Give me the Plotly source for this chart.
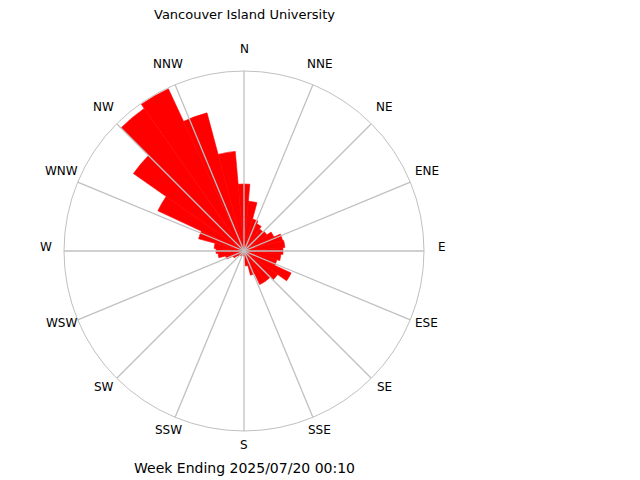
import math
import plotly.graph_objects as go

# wind rose, 10 degree sectors, clockwise from N
bin_dirs = [0, 10, 20, 30, 40, 50, 60, 70, 80, 90, 100, 110,
            120, 130, 140, 150, 160, 170, 180, 190, 200, 210, 220, 230,
            240, 250, 260, 270, 280, 290, 300, 310, 320, 330, 340, 350]
bin_vals = [67, 50, 33, 30, 27, 28, 33, 40, 41, 39, 37, 34,
            52, 41, 37, 37, 25, 15, 5, 5, 4, 5, 6, 8,
            12, 19, 26, 28, 30, 47, 95, 135, 174, 179, 143, 100]

compass_labels = ["N", "NNE", "NE", "ENE", "E", "ESE", "SE", "SSE",
                  "S", "SSW", "SW", "WSW", "W", "WNW", "NW", "NNW"]
compass_dirs = [22.5 * i for i in range(16)]

title_text = "Vancouver Island University"
footer_text = "Week Ending 2025/07/20 00:10"

RED = "#ff0000"
GREY = "#c0c0c0"
FONT = "DejaVu Sans"
OUTER = 180
W, H = 640, 480
# pole of the rose in figure pixels (page has an 8px body margin)
CX, CY = 236, 243

fig = go.Figure()
# thin red outline closes the antialiasing seams between sectors
fig.add_trace(go.Barpolar(
    theta=bin_dirs, r=bin_vals, width=10,
    marker=dict(color=RED, line=dict(width=0.6, color=RED)),
    hoverinfo="skip",
))

# spokes sit on top of the bars
for d in compass_dirs:
    fig.add_trace(go.Scatterpolar(
        theta=[d, d], r=[0, OUTER], mode="lines",
        line=dict(color=GREY, width=1.3), hoverinfo="skip",
    ))

notes = [
    dict(text=title_text, x=CX / W, y=1 - 7 / H, font=dict(size=13)),
    dict(text=footer_text, x=CX / W, y=1 - 460 / H, font=dict(size=14)),
]
# compass labels outside the circle, pushed up a little like the original
for d, lab in zip(compass_dirs, compass_labels):
    a = math.radians(d)
    notes.append(dict(
        text=lab,
        x=(CX + 198 * math.sin(a)) / W,
        y=1 - (CY - 198 * math.cos(a) - 4) / H,
        font=dict(size=12),
    ))
for n in notes:
    n.update(xref="paper", yref="paper", showarrow=False, xanchor="center", yanchor="middle")

fig.update_layout(
    width=W, height=H,
    margin=dict(l=0, r=0, t=0, b=0),
    paper_bgcolor="white",
    showlegend=False,
    font=dict(family=FONT, size=12, color="black"),
    polar=dict(
        domain=dict(x=[(CX - OUTER) / W, (CX + OUTER) / W],
                    y=[1 - (CY + OUTER) / H, 1 - (CY - OUTER) / H]),
        bgcolor="white",
        radialaxis=dict(range=[0, OUTER], visible=False),
        angularaxis=dict(
            rotation=90, direction="clockwise",
            showticklabels=False, showgrid=False, ticks="",
            showline=True, linecolor=GREY, linewidth=1,
        ),
    ),
    annotations=notes,
)

fig.write_html("out.html")
